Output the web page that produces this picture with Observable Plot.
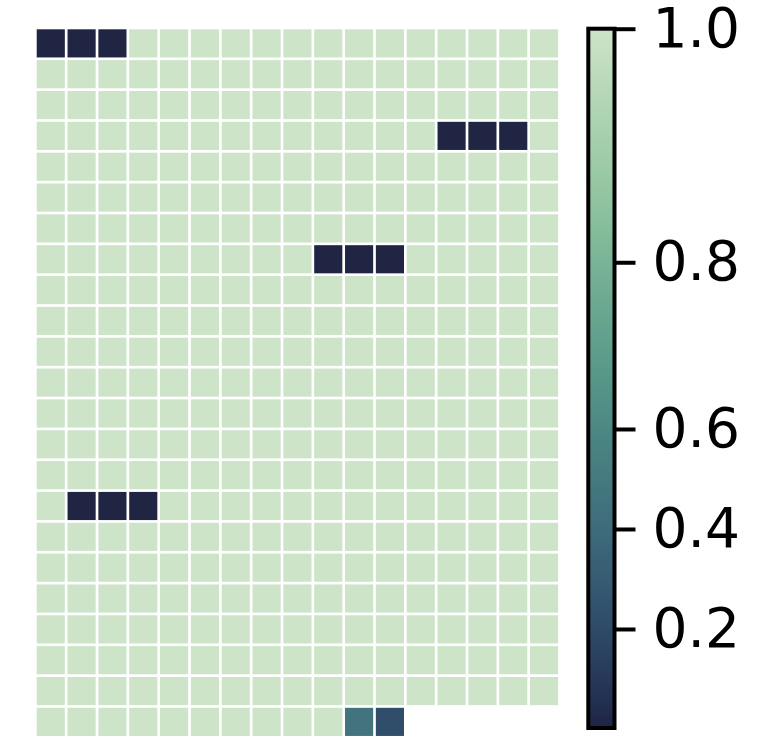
<!DOCTYPE html>
<html>
<head>
<meta charset="utf-8">
<script src="https://cdn.jsdelivr.net/npm/d3@7"></script>
<script src="https://cdn.jsdelivr.net/npm/@observablehq/plot@0.6"></script>
<style>
  html, body { margin: 0; padding: 0; background: #fff; }
  #chart { position: relative; width: 778px; height: 739px; overflow: hidden; }
  #chart svg { position: absolute; top: 0; }
</style>
</head>
<body>
<div id="chart"></div>
<script>
// ---- data: one array per grid row (17 columns, last row partial) ----
const nCols = 17;
const cellRows = [
  [0.0, 0.0, 0.0, 1, 1, 1, 1, 1, 1, 1, 1, 1, 1, 1, 1, 1, 1],
  [1, 1, 1, 1, 1, 1, 1, 1, 1, 1, 1, 1, 1, 1, 1, 1, 1],
  [1, 1, 1, 1, 1, 1, 1, 1, 1, 1, 1, 1, 1, 1, 1, 1, 1],
  [1, 1, 1, 1, 1, 1, 1, 1, 1, 1, 1, 1, 1, 0.0, 0.0, 0.0, 1],
  [1, 1, 1, 1, 1, 1, 1, 1, 1, 1, 1, 1, 1, 1, 1, 1, 1],
  [1, 1, 1, 1, 1, 1, 1, 1, 1, 1, 1, 1, 1, 1, 1, 1, 1],
  [1, 1, 1, 1, 1, 1, 1, 1, 1, 1, 1, 1, 1, 1, 1, 1, 1],
  [1, 1, 1, 1, 1, 1, 1, 1, 1, 0.0, 0.0, 0.0, 1, 1, 1, 1, 1],
  [1, 1, 1, 1, 1, 1, 1, 1, 1, 1, 1, 1, 1, 1, 1, 1, 1],
  [1, 1, 1, 1, 1, 1, 1, 1, 1, 1, 1, 1, 1, 1, 1, 1, 1],
  [1, 1, 1, 1, 1, 1, 1, 1, 1, 1, 1, 1, 1, 1, 1, 1, 1],
  [1, 1, 1, 1, 1, 1, 1, 1, 1, 1, 1, 1, 1, 1, 1, 1, 1],
  [1, 1, 1, 1, 1, 1, 1, 1, 1, 1, 1, 1, 1, 1, 1, 1, 1],
  [1, 1, 1, 1, 1, 1, 1, 1, 1, 1, 1, 1, 1, 1, 1, 1, 1],
  [1, 1, 1, 1, 1, 1, 1, 1, 1, 1, 1, 1, 1, 1, 1, 1, 1],
  [1, 0.0, 0.0, 0.0, 1, 1, 1, 1, 1, 1, 1, 1, 1, 1, 1, 1, 1],
  [1, 1, 1, 1, 1, 1, 1, 1, 1, 1, 1, 1, 1, 1, 1, 1, 1],
  [1, 1, 1, 1, 1, 1, 1, 1, 1, 1, 1, 1, 1, 1, 1, 1, 1],
  [1, 1, 1, 1, 1, 1, 1, 1, 1, 1, 1, 1, 1, 1, 1, 1, 1],
  [1, 1, 1, 1, 1, 1, 1, 1, 1, 1, 1, 1, 1, 1, 1, 1, 1],
  [1, 1, 1, 1, 1, 1, 1, 1, 1, 1, 1, 1, 1, 1, 1, 1, 1],
  [1, 1, 1, 1, 1, 1, 1, 1, 1, 1, 1, 1, 1, 1, 1, 1, 1],
  [1, 1, 1, 1, 1, 1, 1, 1, 1, 1, 0.46, 0.21]
];

// ---- colorbar ticks and the (non-linear) colour normalisation ----
const colorTicks = [0.2, 0.4, 0.6, 0.8, 1.0];
const normValues = [0, 0.2, 0.4, 0.6, 0.8, 1.0];
const normPositions = [0, 0.1416, 0.2846, 0.4276, 0.666, 1.0];

// ---- colormap (position 0 = bottom, 1 = top) ----
const cmapStops = [0, 0.04, 0.112, 0.198, 0.298, 0.398, 0.499, 0.613, 0.699, 0.799, 0.9, 1];
const cmapColors = ["#1f2543", "#243152", "#2c4463", "#355a72", "#406e7b", "#4a8382",
                    "#569789", "#6eaa92", "#82bb9a", "#9ccaa6", "#b4d7b6", "#cde4c9"];

const norm = d3.scaleLinear(normValues, normPositions).clamp(true);
const cmap = d3.scaleLinear(cmapStops, cmapColors).interpolate(d3.interpolateRgb);
const colorScale = {type: "linear", domain: [0, 1], interpolate: (t) => cmap(norm(t))};

const cells = cellRows.flatMap((r, i) => r.map((v, j) => ({row: i, col: j, value: v})));

const heat = Plot.plot({
  width: 570,
  height: 739,
  margin: 0,
  x: {type: "band", domain: d3.range(nCols), range: [35.35, 559.5], padding: 0, round: false, axis: null},
  y: {type: "band", domain: d3.range(cellRows.length), range: [27.95, 737.3], padding: 0, round: false, axis: null},
  color: colorScale,
  marks: [
    Plot.cell(cells, {x: "col", y: "row", fill: "value", inset: 1.35})
  ]
});
heat.style.left = "0px";

// colorbar
const barTop = 28.7, barBottom = 728;
const gradient = d3.range(0, 1, 0.002).map((v) => ({v0: v, v1: Math.min(1, v + 0.008)}));
const bar = Plot.plot({
  width: 208,
  height: 739,
  marginLeft: 18.3,
  marginRight: 163.5,
  marginTop: barTop,
  marginBottom: 739 - barBottom,
  x: {domain: [0, 1], axis: null},
  y: {type: "linear", domain: normValues,
      range: normPositions.map((p) => barBottom - p * (barBottom - barTop)), axis: null},
  color: colorScale,
  style: {fontFamily: "DejaVu Sans, sans-serif", fontSize: "55px", color: "black", overflow: "visible"},
  marks: [
    Plot.rect(gradient, {x1: 0, x2: 1, y1: "v0", y2: "v1", fill: "v0"}),
    Plot.rect([{}], {x1: 0, x2: 1, y1: 0, y2: 1, fill: "none", stroke: "black", strokeWidth: 4, strokeLinejoin: "miter"}),
    Plot.axisY(colorTicks, {anchor: "right", tickSize: 20, tickPadding: 17.5, strokeWidth: 4,
                            tickFormat: d3.format(".1f"), label: null})
  ]
});
bar.style.left = "570px";

const chart = document.getElementById("chart");
chart.appendChild(heat);
chart.appendChild(bar);
</script>
</body>
</html>
